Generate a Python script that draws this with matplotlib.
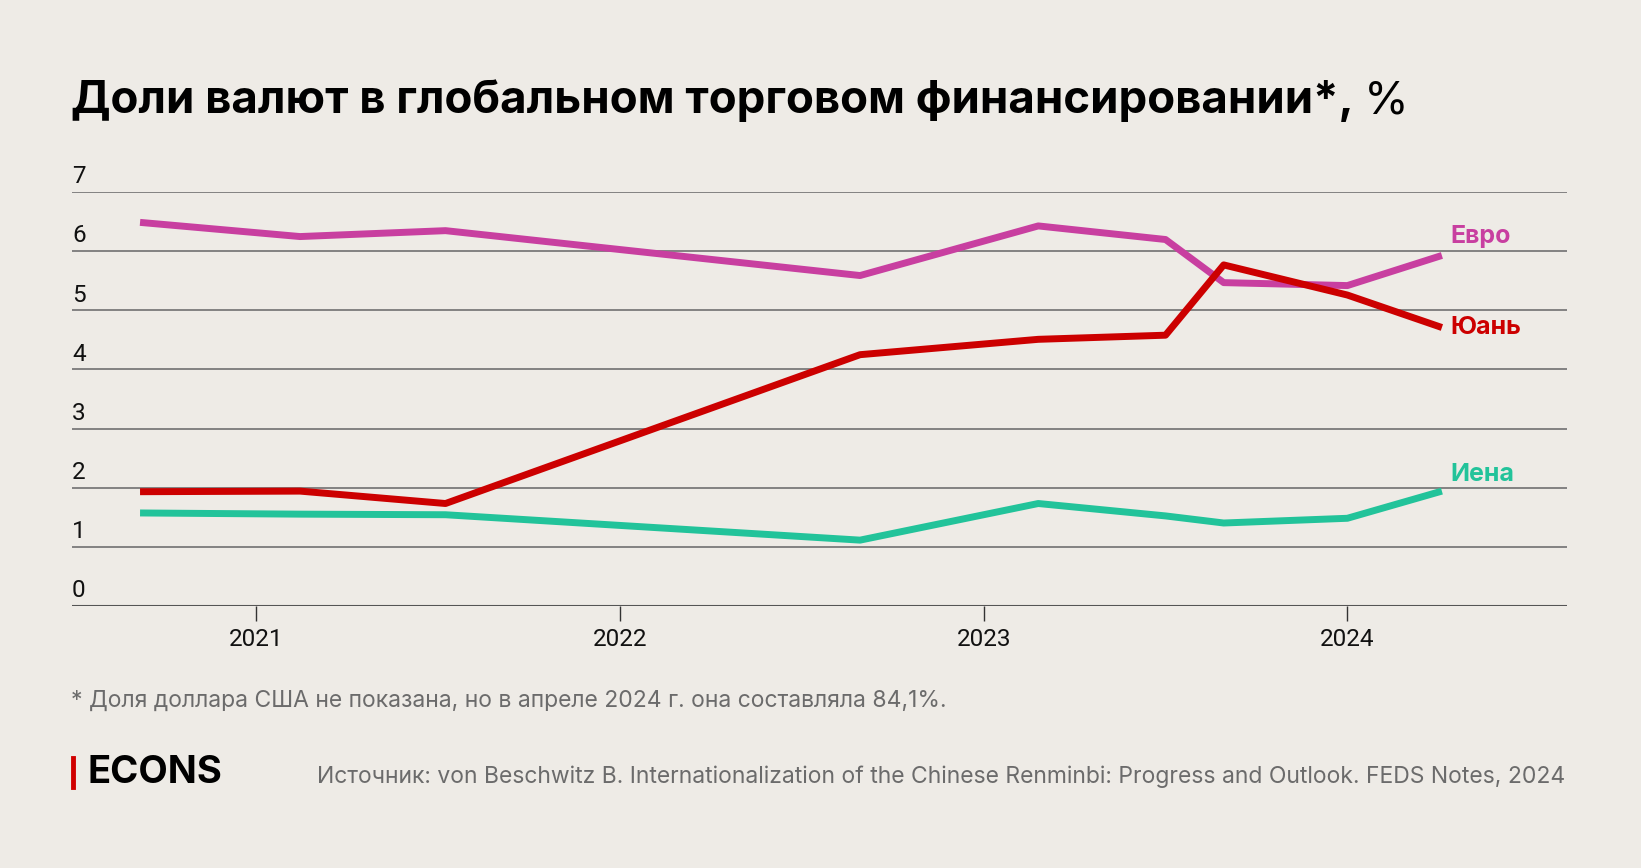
import matplotlib
matplotlib.use("Agg")
import matplotlib.pyplot as plt
from matplotlib.lines import Line2D

# data: decimal years, share in %
dates = [2020.68, 2021.12, 2021.52, 2022.66, 2023.15, 2023.50, 2023.66, 2024.00, 2024.26]
euro = [6.49, 6.25, 6.35, 5.59, 6.43, 6.20, 5.47, 5.42, 5.93]
yuan = [1.93, 1.94, 1.73, 4.25, 4.51, 4.58, 5.77, 5.26, 4.71]
yen = [1.57, 1.55, 1.54, 1.11, 1.73, 1.52, 1.40, 1.48, 1.94]

years = [2021, 2022, 2023, 2024]
yticks = [0, 1, 2, 3, 4, 5, 6, 7]

bg = "#EEEBE6"
c_euro = "#C83FA0"
c_yuan = "#CC0000"
c_yen = "#22C39A"
grid_c = "#7a7a7a"

plt.rcParams['font.family'] = ['Roboto', 'DejaVu Sans']
wide = ['Inter', 'DejaVu Sans']

fig = plt.figure(figsize=(16.41, 8.68), dpi=100, facecolor=bg)
ax = fig.add_axes([0.0439, 0.3022, 0.9110, 0.4763])
ax.set_facecolor(bg)

ax.set_xlim(2020.493, 2024.604)
ax.set_ylim(0, 7)

for v in yticks:
    ax.axhline(v, color=grid_c if v else "#555555", lw=1.3 if v else 1.5, zorder=1)
    ax.text(2020.493, v + 0.26, str(v), fontsize=17.5, color="#111111",
            ha="left", va="center")

for spine in ax.spines.values():
    spine.set_visible(False)
ax.set_yticks([])
ax.set_xticks(years)
ax.set_xticklabels([str(y) for y in years], fontsize=17.5, color="#111111")
ax.tick_params(axis="x", length=11, width=1, color="#333333", pad=5)

lw = 5
ax.plot(dates, euro, color=c_euro, lw=lw, solid_capstyle="butt", zorder=3)
ax.plot(dates, yuan, color=c_yuan, lw=lw, solid_capstyle="butt", zorder=4)
ax.plot(dates, yen, color=c_yen, lw=lw, solid_capstyle="butt", zorder=3)

labels = [("Евро", euro, c_euro, 14), ("Юань", yuan, c_yuan, 0), ("Иена", yen, c_yen, 12)]
for name, vals, col, dy in labels:
    ax.annotate(name, xy=(dates[-1], vals[-1]), xytext=(6, dy), textcoords="offset points",
                fontsize=18, fontweight="bold", color=col, ha="left", va="center",
                family=wide)

# title: bold part + regular " %"
t = fig.text(71 / 1641, 1 - 113 / 868, "Доли валют в глобальном торговом финансировании*,",
             fontsize=32.8, fontweight="bold", color="black", ha="left", va="baseline",
             family=wide)
fig.canvas.draw()
bb = t.get_window_extent()
fig.text((bb.x1 + 10) / 1641, 1 - 113 / 868, "%", fontsize=32.8, color="black",
         ha="left", va="baseline", family=wide)

fig.text(71 / 1641, 1 - 701 / 868,
         "* Доля доллара США не показана, но в апреле 2024 г. она составляла 84,1%.",
         fontsize=16.5, color="#6b6b6b", ha="left", va="center", family=wide)

fig.text(1565 / 1641, 1 - 777 / 868,
         "Источник: von Beschwitz B. Internationalization of the Chinese Renminbi: Progress and Outlook. FEDS Notes, 2024",
         fontsize=16.5, color="#6b6b6b", ha="right", va="center", family=wide)

# logo
fig.add_artist(Line2D([73 / 1641, 73 / 1641], [1 - 787 / 868, 1 - 758 / 868],
                      color="#D00000", lw=3.5, transform=fig.transFigure))
fig.text(87 / 1641, 1 - 773 / 868, "ECONS", fontsize=27.5, fontweight="bold",
         color="black", ha="left", va="center", family=wide)

fig.savefig("out.png", dpi=100, facecolor=bg)
